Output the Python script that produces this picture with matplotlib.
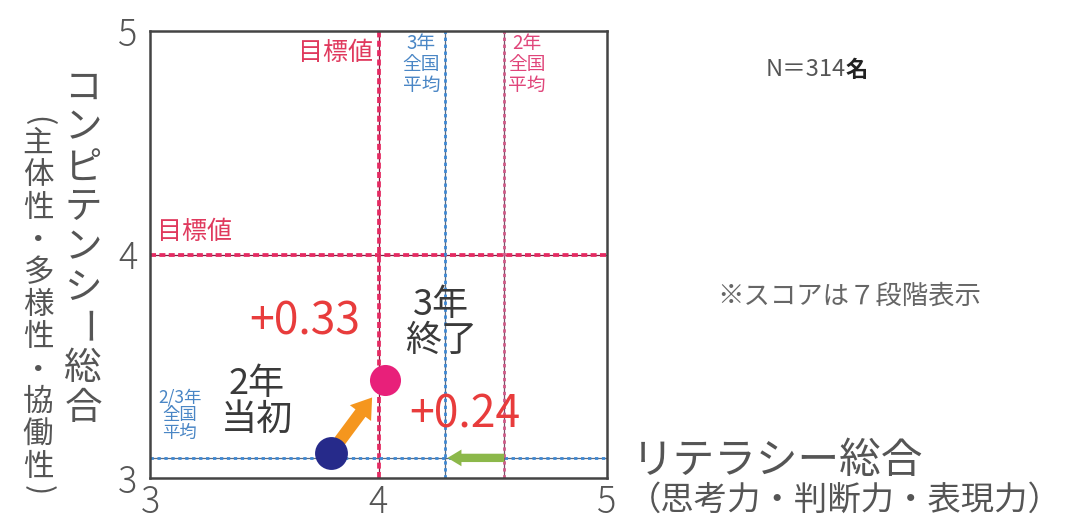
import matplotlib
matplotlib.use("Agg")
import matplotlib.pyplot as plt
from matplotlib.patches import FancyArrowPatch

plt.rcParams['font.family'] = ['Noto Sans CJK JP', 'DejaVu Sans']

# scores (7-level scale) : literacy on x, competency on y
start = (3.79, 3.11)          # 2年当初
gain_x = 0.24                  # literacy gain
gain_y = 0.33                  # competency gain
end = (start[0] + gain_x, start[1] + gain_y)   # 3年終了

target_x = 4.0                 # 目標値 (literacy)
target_y = 4.0                 # 目標値 (competency)
natl_avg_y3 = 4.29             # 3年全国平均 (literacy)
natl_avg_y2 = 4.55             # 2年全国平均 (literacy)
natl_avg_comp = 3.09           # 2/3年全国平均 (competency)

ticks = [3, 4, 5]
n_students = 314

W, H = 1069, 526
fig = plt.figure(figsize=(W / 100, H / 100), dpi=100, facecolor='white')
ax = fig.add_axes([150 / W, 1 - 478 / H, 457 / W, 447 / H])
ax.set_xlim(3, 5)
ax.set_ylim(3, 5)
ax.set_xticks(ticks)
ax.set_yticks(ticks)
ax.tick_params(length=0, labelsize=26, labelcolor='#555555')
ax.tick_params(axis='x', pad=4)
ax.tick_params(axis='y', pad=9)
for lab in ax.get_xticklabels() + ax.get_yticklabels():
    lab.set_fontweight('light')
for s in ax.spines.values():
    s.set_color('#444444')
    s.set_linewidth(1.8)


def ref_line(kind, pos, base, top, ls, lw):
    f = ax.axvline if kind == 'v' else ax.axhline
    f(pos, color=base, lw=0.9, zorder=2)
    f(pos, color=top, lw=lw, ls=ls, zorder=2)


red_ls = (0, (1.6, 0.9))
dot_ls = (0, (1.2, 1.3))
ref_line('v', target_x, '#7a2040', '#e52a62', red_ls, 2.7)
ref_line('h', target_y, '#7a2040', '#e52a62', red_ls, 2.7)
ref_line('v', natl_avg_y3, '#5a6a80', '#3d88d4', dot_ls, 2.0)
ref_line('h', natl_avg_comp, '#5a6a80', '#3d88d4', dot_ls, 2.0)
ref_line('v', natl_avg_y2, '#7a5068', '#d05a88', dot_ls, 2.0)

# movement arrows
ax.add_patch(FancyArrowPatch(start, end, arrowstyle='simple,head_length=0.7,head_width=0.95,tail_width=0.45',
                             mutation_scale=20, color='#f5961e', lw=0, shrinkA=11, shrinkB=16, zorder=3))
ax.add_patch(FancyArrowPatch((natl_avg_y2, natl_avg_comp), (natl_avg_y3, natl_avg_comp),
                             arrowstyle='simple,head_length=0.5,head_width=0.6,tail_width=0.3',
                             mutation_scale=20, color='#8cb84a', lw=0, shrinkA=0, shrinkB=2, zorder=3))

ax.scatter([start[0]], [start[1]], s=560, color='#262a8a', zorder=4, lw=0)
ax.scatter([end[0]], [end[1]], s=500, color='#e8207a', zorder=4, lw=0)

# labels inside the plot
ax.text(3.975, 4.90, '目標値', color='#e03a5e', fontsize=18, ha='right', va='center')
ax.text(3.03, 4.10, '目標値', color='#e03a5e', fontsize=18, ha='left', va='center')
ax.text(4.27, 4.99, '3年\n全国\n平均', color='#4a86c5', fontsize=13.5, ha='right', va='top',
        multialignment='center', linespacing=1.0)
ax.text(4.567, 4.99, '2年\n全国\n平均', color='#e0457a', fontsize=13.5, ha='left', va='top',
        multialignment='center', linespacing=1.0)
ax.text(3.13, 3.28, '2/3年\n全国\n平均', color='#4a86c5', fontsize=12.5, ha='center', va='center',
        multialignment='center', linespacing=1.0)
ax.text(3.468, 3.34, '2年\n当初', color='#3a3a3a', fontsize=26, ha='center', va='center', linespacing=1.0)
ax.text(4.274, 3.694, '3年\n終了', color='#3a3a3a', fontsize=26, ha='center', va='center', linespacing=1.0)
ax.text(3.678, 3.698, f'+{gain_y:.2f}', color='#e83c3c', fontsize=32, ha='center', va='center')
ax.text(4.379, 3.286, f'+{gain_x:.2f}', color='#e83c3c', fontsize=32, ha='center', va='center')


def px(x, y):
    return x / W, 1 - y / H


def vtext(x, y0, s, size, step, color='#555555'):
    # vertical writing: stack characters, turn long vowel marks and brackets
    for i, ch in enumerate(s):
        y = y0 + i * step
        rot = 0
        if ch in 'ー()':
            rot = -90
        if ch == '(':
            y += step * 0.3
        if ch == ')':
            y -= step * 0.3
        fig.text(*px(x, y), ch, fontsize=size, color=color, rotation=rot,
                 ha='center', va='center')


vtext(83, 88, 'コンピテンシー総合', 27, 40)
vtext(38, 111, '(主体性・多様性・協働性)', 22, 32.4)

fig.text(*px(632, 462), 'リテラシー総合', fontsize=30, color='#555555', ha='left', va='center')
fig.text(*px(628, 500), '（思考力・判断力・表現力）', fontsize=24, color='#555555', ha='left', va='center')

fig.text(*px(846, 70), f'N＝{n_students}', fontsize=17, color='#555555', ha='right', va='center')
fig.text(*px(846, 70), '名', fontsize=16, color='#222222', fontweight='bold', ha='left', va='center')
fig.text(*px(717, 296), '※スコアは７段階表示', fontsize=19, color='#666666', ha='left', va='center')

fig.savefig('out.png', dpi=100, facecolor='white')
